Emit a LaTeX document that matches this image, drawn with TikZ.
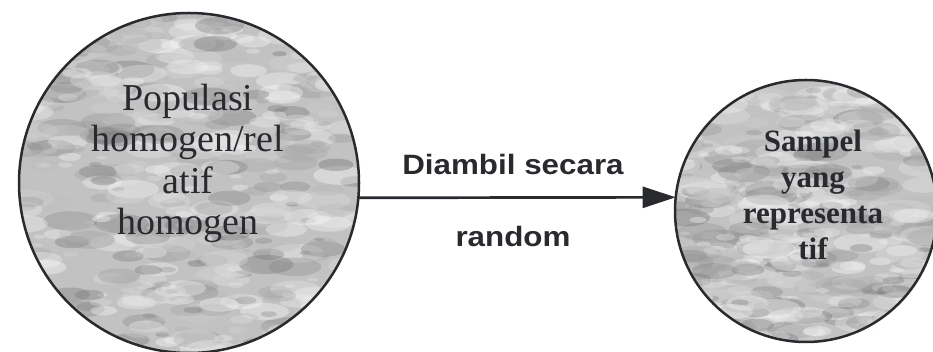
\documentclass[tikz,border=0pt]{standalone}
\usepackage{fontspec}
\setmainfont{Liberation Serif}
\newfontfamily\arialfont{Liberation Sans}
\usetikzlibrary{arrows.meta,calc}
\definecolor{inkc}{RGB}{40,42,46}
\tikzset{
  texture/.style={path picture={
    \fill[black!24] (path picture bounding box.south west) rectangle (path picture bounding box.north east);
    \foreach \i in {1,...,520}{
      \pgfmathsetmacro\xx{rnd}\pgfmathsetmacro\yy{rnd}
      \pgfmathsetmacro\gg{int(0+60*rnd^1.5)}
      \pgfmathsetmacro\rr{3+13*rnd}
      \fill[black!\gg,opacity=0.35]
        ($(path picture bounding box.south west)!\xx!(path picture bounding box.south east)+(0,\yy*#1)$)
        ellipse ({\rr*1.7pt} and {\rr*0.6pt});
    }
  }},
  blob/.style={circle,draw=inkc,line width=2.5pt,inner sep=0pt,outer sep=0pt,texture=#1},
  circtext/.style={align=center,text=inkc,inner sep=0pt,anchor=base},
  arrlabel/.style={font=\arialfont\bfseries\fontsize{28}{30}\selectfont,text=inkc,inner sep=0pt,anchor=base},
}
\pgfmathsetseed{7}
\begin{document}
\begin{tikzpicture}[x=1pt,y=1pt]
\useasboundingbox (0,0) rectangle (933,352);
\node[blob=340pt,minimum size=340pt] (L) at (189,169) {};
\node[blob=262pt,minimum size=262pt] (R) at (806,141) {};
\node[circtext,font=\fontsize{38}{41.5}\selectfont] (Ltext) at (188,117)
  {Populasi\\homogen/rel\\atif\\homogen};
\node[circtext,font=\bfseries\fontsize{31}{36}\selectfont] (Rtext) at (813,92)
  {Sampel\\yang\\representa\\tif};
\draw[inkc,line width=2.7pt,-{Triangle[length=33pt,width=21pt]}] (L.-5) -- (R.174);
\node[arrlabel] (lab1) at (513,177) {\scalebox{1.12}[1]{Diambil secara}};
\node[arrlabel] (lab2) at (513,105) {\scalebox{1.12}[1]{random}};
\end{tikzpicture}
\end{document}
